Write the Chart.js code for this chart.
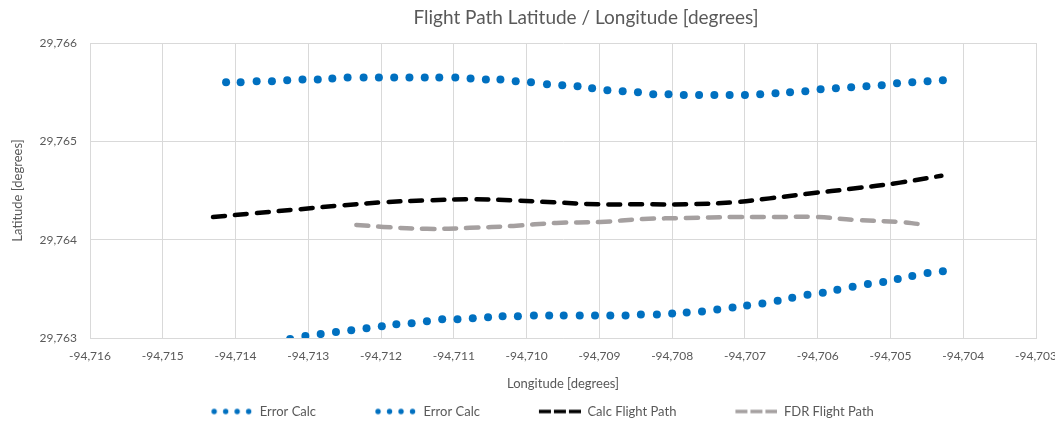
<!DOCTYPE html>
<html>
<head>
<meta charset="utf-8">
<script src="https://cdn.jsdelivr.net/npm/chart.js@4/dist/chart.umd.min.js"></script>
<style>
  html, body { margin: 0; padding: 0; background: #fff; }
  #wrap { width: 1055px; height: 422px; position: relative; }
</style>
</head>
<body>
<div id="wrap"><canvas id="myChart"></canvas></div>
<script>
// axis ticks
const lonTicks = { min: -94.716, max: -94.703, step: 0.001 };
const latTicks = { min: 29.763, max: 29.766, step: 0.001 };

// Error Calc (upper)
const errTopLon = [-94.71413, -94.71393, -94.71371, -94.71350, -94.71329, -94.71308, -94.71287, -94.71267, -94.71246, -94.71224,
  -94.71203, -94.71182, -94.71161, -94.71140, -94.71120, -94.71098, -94.71077, -94.71056, -94.71036, -94.71015,
  -94.70994, -94.70972, -94.70951, -94.70930, -94.70910, -94.70889, -94.70868, -94.70847, -94.70826, -94.70805,
  -94.70784, -94.70763, -94.70742, -94.70721, -94.70700, -94.70679, -94.70658, -94.70638, -94.70617, -94.70596,
  -94.70575, -94.70554, -94.70533, -94.70512, -94.70491, -94.70470, -94.70449, -94.70428];
const errTopLat = [29.76560, 29.76560, 29.76561, 29.76561, 29.76562, 29.76563, 29.76563, 29.76564, 29.76565, 29.76565,
  29.76565, 29.76565, 29.76565, 29.76565, 29.76565, 29.76565, 29.76564, 29.76563, 29.76563, 29.76561,
  29.76560, 29.76558, 29.76557, 29.76556, 29.76554, 29.76552, 29.76551, 29.76550, 29.76548, 29.76548,
  29.76547, 29.76547, 29.76547, 29.76547, 29.76547, 29.76548, 29.76549, 29.76550, 29.76551, 29.76553,
  29.76554, 29.76555, 29.76556, 29.76557, 29.76559, 29.76560, 29.76561, 29.76562];

// Error Calc (lower)
const errBotLon = [-94.71325, -94.71304, -94.71283, -94.71262, -94.71241, -94.71220, -94.71199, -94.71179, -94.71158, -94.71137,
  -94.71116, -94.71095, -94.71074, -94.71053, -94.71033, -94.71012, -94.70990, -94.70969, -94.70949, -94.70927,
  -94.70906, -94.70885, -94.70864, -94.70843, -94.70821, -94.70800, -94.70780, -94.70759, -94.70738, -94.70717,
  -94.70697, -94.70676, -94.70655, -94.70635, -94.70614, -94.70593, -94.70573, -94.70552, -94.70531, -94.70510,
  -94.70490, -94.70470, -94.70449, -94.70428];
const errBotLat = [29.76299, 29.76302, 29.76304, 29.76306, 29.76308, 29.76310, 29.76312, 29.76314, 29.76315, 29.76317,
  29.76319, 29.76319, 29.76320, 29.76321, 29.76322, 29.76322, 29.76323, 29.76323, 29.76323, 29.76323,
  29.76323, 29.76323, 29.76323, 29.76324, 29.76324, 29.76325, 29.76326, 29.76327, 29.76329, 29.76331,
  29.76333, 29.76335, 29.76338, 29.76341, 29.76344, 29.76346, 29.76349, 29.76352, 29.76355, 29.76357,
  29.76360, 29.76363, 29.76366, 29.76368];

// Calc Flight Path
const calcLon = [-94.71431, -94.71373, -94.71311, -94.71252, -94.71197, -94.71137, -94.71078, -94.71021, -94.70963,
  -94.70902, -94.70840, -94.70780, -94.70716, -94.70666, -94.70611, -94.70551, -94.70487, -94.70430];
const calcLat = [29.76423, 29.76427, 29.76431, 29.76435, 29.76438, 29.76440, 29.76441, 29.76440, 29.76438,
  29.76436, 29.76436, 29.76436, 29.76438, 29.76442, 29.76447, 29.76452, 29.76458, 29.76465];

// FDR Flight Path
const fdrLon = [-94.71234, -94.71197, -94.71137, -94.71078, -94.71018, -94.70959, -94.70899, -94.70840,
  -94.70780, -94.70716, -94.70661, -94.70602, -94.70547, -94.70487, -94.70462];
const fdrLat = [29.76415, 29.76413, 29.76411, 29.76412, 29.76414, 29.76417, 29.76418, 29.76421,
  29.76422, 29.76423, 29.76423, 29.76423, 29.76420, 29.76418, 29.76416];

const seriesNames = ['Error Calc', 'Error Calc', 'Calc Flight Path', 'FDR Flight Path'];

const BLUE = '#0070C0';
const BLACK = '#000000';
const GREY = '#A5A0A0';
const TEXT = '#595959';
const GRID = '#D9D9D9';
const FONT = 'Lato, "Open Sans", sans-serif';

function pts(xs, ys) {
  return xs.map((x, i) => ({ x: x, y: ys[i] }));
}

function fmt(v) {
  return Number(v).toFixed(3).replace('.', ',');
}

// little legend samples (left part left blank as spacing between items)
function dotSample(color) {
  const c = document.createElement('canvas');
  c.width = 91; c.height = 12;
  const ctx = c.getContext('2d');
  ctx.fillStyle = color;
  [52, 63.5, 75, 86.5].forEach(x => {
    ctx.beginPath();
    ctx.arc(x, 6, 2.7, 0, Math.PI * 2);
    ctx.fill();
  });
  return c;
}
function dashSample(color) {
  const c = document.createElement('canvas');
  c.width = 91; c.height = 12;
  const ctx = c.getContext('2d');
  ctx.strokeStyle = color;
  ctx.lineWidth = 3.5;
  [[49, 61], [64, 76], [79, 91]].forEach(d => {
    ctx.beginPath();
    ctx.moveTo(d[0], 6);
    ctx.lineTo(d[1], 6);
    ctx.stroke();
  });
  return c;
}
const samples = [dotSample(BLUE), dotSample(BLUE), dashSample(BLACK), dashSample(GREY)];

// excel puts the title a bit right of the plot centre
const titleNudge = {
  id: 'titleNudge',
  afterLayout(chart) {
    const t = chart.titleBlock;
    if (t) {
      t.left += 23;
      t.right += 23;
    }
  }
};

const dotStyle = {
  showLine: false,
  pointRadius: 4,
  pointBackgroundColor: BLUE,
  pointBorderWidth: 0,
  borderColor: BLUE,
  backgroundColor: BLUE,
  clip: 0
};
const lineStyle = {
  showLine: true,
  pointRadius: 0,
  borderWidth: 4.5,
  borderDash: [12, 10],
  borderCapStyle: 'round',
  tension: 0.4,
  clip: 0
};

const data = {
  datasets: [
    Object.assign({ label: seriesNames[0], data: pts(errTopLon, errTopLat) }, dotStyle),
    Object.assign({ label: seriesNames[1], data: pts(errBotLon, errBotLat) }, dotStyle),
    Object.assign({ label: seriesNames[2], data: pts(calcLon, calcLat), borderColor: BLACK }, lineStyle),
    Object.assign({ label: seriesNames[3], data: pts(fdrLon, fdrLat), borderColor: GREY }, lineStyle)
  ]
};

const config = {
  type: 'scatter',
  data: data,
  plugins: [titleNudge],
  options: {
    responsive: true,
    maintainAspectRatio: false,
    animation: false,
    events: [],
    layout: { padding: { left: 0, right: 19, top: 0, bottom: -6 } },
    plugins: {
      tooltip: { enabled: false },
      title: {
        display: true,
        text: 'Flight Path Latitude / Longitude [degrees]',
        color: TEXT,
        font: { family: FONT, size: 19, weight: 'normal' },
        padding: { top: 6.6, bottom: 13.6 },
        fullSize: false
      },
      legend: {
        position: 'bottom',
        labels: {
          usePointStyle: true,
          pointStyleWidth: 91,
          padding: 10,
          color: TEXT,
          font: { family: FONT, size: 13 },
          generateLabels: function (chart) {
            return chart.data.datasets.map((ds, i) => ({
              text: ds.label,
              pointStyle: samples[i],
              fillStyle: 'transparent',
              strokeStyle: 'transparent',
              lineWidth: 0,
              hidden: false,
              datasetIndex: i,
              fontColor: TEXT
            }));
          }
        }
      }
    },
    scales: {
      x: {
        type: 'linear',
        min: lonTicks.min,
        max: lonTicks.max,
        grid: { color: GRID, drawTicks: false },
        border: { color: GRID },
        ticks: {
          stepSize: lonTicks.step,
          padding: 11,
          maxRotation: 0,
          color: TEXT,
          font: { family: FONT, size: 12 },
          callback: fmt
        },
        title: {
          display: true,
          text: 'Longitude [degrees]',
          color: TEXT,
          font: { family: FONT, size: 13 },
          padding: { top: 4, bottom: 3 }
        },
        afterFit: function (scale) {
          scale.height = 57;
          scale.paddingLeft = 0;
          scale.paddingRight = 0;
        }
      },
      y: {
        type: 'linear',
        min: latTicks.min,
        max: latTicks.max,
        grid: { color: GRID, drawTicks: false },
        border: { color: GRID },
        ticks: {
          stepSize: latTicks.step,
          padding: 13,
          color: TEXT,
          font: { family: FONT, size: 12 },
          callback: fmt
        },
        title: {
          display: true,
          text: 'Latitude [degrees]',
          color: TEXT,
          font: { family: FONT, size: 13 },
          padding: { top: 10, bottom: 0 }
        },
        afterFit: function (scale) {
          scale.width = 90;
          scale.paddingTop = 0;
          scale.paddingBottom = 0;
        }
      }
    }
  }
};

const myChart = new Chart(document.getElementById('myChart'), config);
</script>
</body>
</html>
